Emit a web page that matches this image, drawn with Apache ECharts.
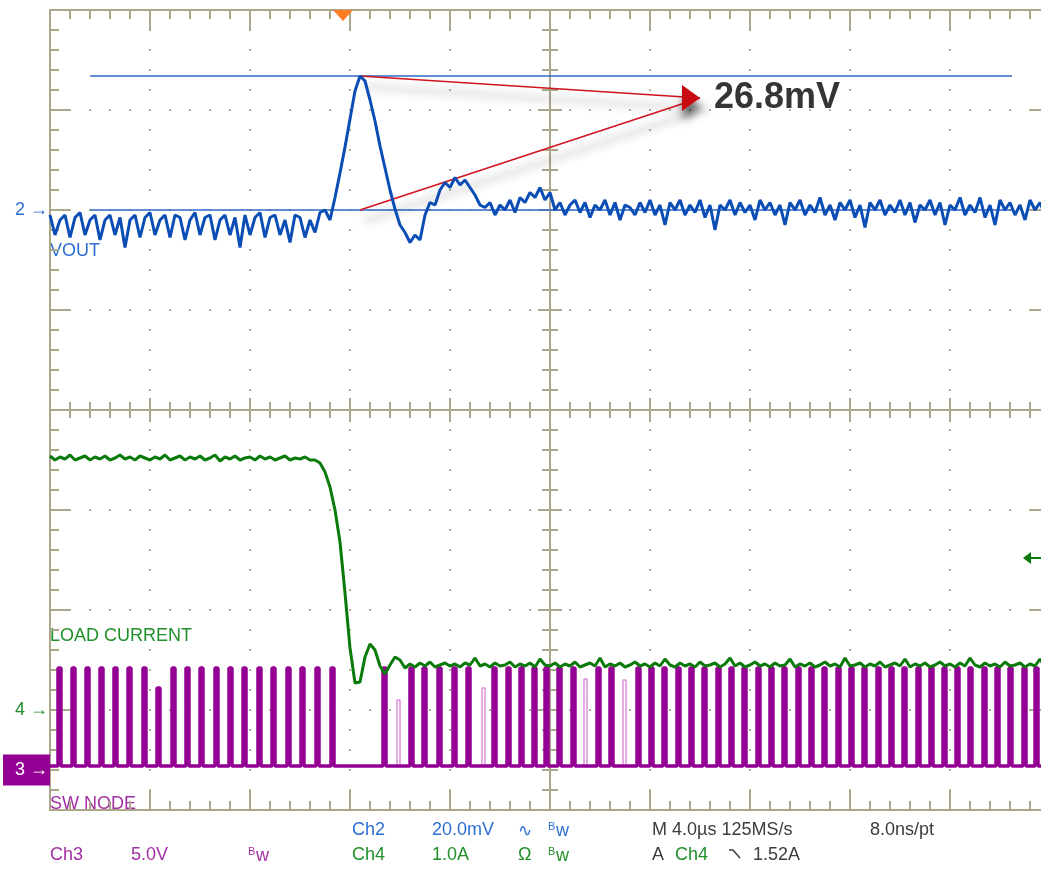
<!DOCTYPE html>
<html>
<head>
<meta charset="utf-8">
<script src="https://cdn.jsdelivr.net/npm/echarts@6/dist/echarts.min.js"></script>
<style>
  html, body { margin: 0; padding: 0; background: #ffffff; }
  #main { width: 1041px; height: 884px; }
</style>
</head>
<body>
<div id="main"></div>
<script>
// ---- acquisition settings (time 0 = screen centre) ----
const timeRange = [-20, 20];        // µs, 10 div x 4.0 µs
const timePerDiv = 4;
const sampleStart = -20;            // µs, first stored sample
const sampleStep = 0.2;             // µs between stored samples

// Ch2 VOUT, AC coupled, mV
const voutMv = [
  -1, -5, -2, -1, -5.5, -1.5, -0.5, -5, -2, -1,
  -6, -2, -1, -5, -1.5, -7.5, -2, -1, -5.5, -1.5,
  -0.5, -5, -2, -1, -5.5, -1, -1.5, -6, -2, -0.5,
  -5, -1.5, -1, -6, -2, -1, -5, -1.5, -7.5, -1,
  -5, -1.5, -0.5, -5.5, -1.5, -1, -5, -2, -6.5, -1,
  -1.5, -5.5, -2, -4.5, -0.5, 0, -2,
  2.5, 7.4, 12.6, 18.2, 23.8, 26.8, 25.8, 22, 17.8, 12.8, 8.4, 4, 0.2, -3, -4.5, -6.5,
  -5, -6, -1, 1.5, 1, 4, 5.5, 4.5, 6.5, 5,
  6, 4.5, 3, 1, 0.5, 1.5, -1, 1, 0, 2,
  -0.5, 2.5, 1.5, 3.5, 2.5, 4.5, 2, 3.5, 0, 1.5,
  -1, 1,
  2, -0.5, 1.5, -1.5, 1, 0, 2, -1, 1.5, -2,
  1, 0.5, -1, 1.5, -0.5, 2, -1, 1, -3, 1.5,
  0, 2, -1, 1, -0.5, 2, -1.5, 1, -4, 1,
  0, 2, -1, 1.5, -0.5, 1, -2, 2, 0, 1.5,
  -1, 1, -3, 1.5, 0, 2, -1, 1, -0.5, 2.5,
  -1, 1, -2, 1.5, 0, 2, -1.5, 1, -3.5, 1.5,
  0, 2, -1, 1, -0.5, 2, -1, 1.5, -2.5, 1,
  0, 2, -1, 1.5, -3, 1, 0, 2.5, -1, 1,
  -0.5, 2.5, -1.5, 1, -3, 2, 0, 1.5, -1, 1,
  -2, 2, 0, 1.5, -1, 1
];

// Ch4 load current, A
const loadCurrentA = [
  2.54, 2.5, 2.53, 2.51, 2.55, 2.5, 2.52, 2.54, 2.5, 2.53,
  2.51, 2.54, 2.5, 2.52, 2.55, 2.51, 2.53, 2.5, 2.54, 2.52,
  2.5, 2.53, 2.51, 2.55, 2.5, 2.52, 2.54, 2.5, 2.53, 2.51,
  2.54, 2.5, 2.52, 2.55, 2.49, 2.53, 2.51, 2.54, 2.5, 2.52,
  2.53, 2.5, 2.54, 2.51, 2.53, 2.5, 2.52, 2.54, 2.5, 2.52,
  2.51, 2.53, 2.5,
  2.5, 2.47, 2.38, 2.23, 2.0, 1.68, 1.17, 0.62, 0.27, 0.28,
  0.53, 0.66, 0.6, 0.44, 0.36, 0.45, 0.53, 0.5, 0.42,
  0.46, 0.43, 0.47, 0.44, 0.48, 0.43, 0.45, 0.47, 0.44, 0.46,
  0.43, 0.47, 0.45, 0.52, 0.44, 0.46, 0.43, 0.47, 0.44, 0.45,
  0.48, 0.43, 0.46, 0.44, 0.47, 0.43, 0.51, 0.45, 0.44, 0.47,
  0.43, 0.46, 0.44, 0.48, 0.43, 0.45, 0.47, 0.44, 0.52, 0.43,
  0.46, 0.44, 0.47, 0.43, 0.45, 0.48, 0.44, 0.46, 0.43, 0.47,
  0.44, 0.51, 0.45, 0.43, 0.47, 0.44, 0.46, 0.43, 0.48, 0.44,
  0.45, 0.47, 0.43, 0.46, 0.52, 0.44, 0.47, 0.43, 0.45, 0.48,
  0.44, 0.46, 0.43, 0.47, 0.44, 0.45, 0.51, 0.43, 0.46, 0.44,
  0.47, 0.43, 0.45, 0.48, 0.44, 0.46, 0.43, 0.52, 0.44, 0.45,
  0.47, 0.43, 0.46, 0.44, 0.48, 0.43, 0.45, 0.47, 0.44, 0.51,
  0.43, 0.46, 0.44, 0.47, 0.43, 0.45, 0.48, 0.44, 0.46, 0.43,
  0.47, 0.44, 0.52, 0.45, 0.43, 0.47, 0.44, 0.46, 0.43, 0.48,
  0.44, 0.45, 0.47, 0.43, 0.46, 0.44, 0.51, 0.43, 0.46
];

// Ch3 switch node: pulse rising edges [µs, top V]
const swPulses = [
  [-19.68, 5.1], [-19.12, 5.1], [-18.56, 5.1], [-18.0, 5.1], [-17.44, 5.1],
  [-16.88, 5.1], [-16.28, 5.1], [-15.72, 4.1], [-15.12, 5.1], [-14.56, 5.1],
  [-14.0, 5.1], [-13.4, 5.1], [-12.84, 5.1], [-12.28, 5.1], [-11.68, 5.1],
  [-11.12, 5.1], [-10.52, 5.1], [-9.96, 5.1], [-9.36, 5.1], [-8.76, 5.1],
  [-6.68, 5.1], [-5.6, 5.1], [-5.08, 5.1], [-4.48, 5.1], [-3.88, 5.1],
  [-3.32, 5.1], [-2.28, 5.1], [-1.72, 5.1], [-1.2, 5.1], [-0.68, 5.1],
  [-0.2, 5.1], [0.32, 5.1], [0.88, 5.1], [1.88, 5.1], [2.4, 5.1],
  [3.48, 5.1], [4.0, 5.1], [4.52, 5.1], [5.08, 5.1], [5.6, 5.1],
  [6.12, 5.1], [6.68, 5.1], [7.2, 5.1], [7.72, 5.1], [8.28, 5.1],
  [8.8, 5.1], [9.32, 5.1], [9.88, 5.1], [10.4, 5.1], [10.92, 5.1],
  [11.48, 5.1], [12.0, 5.1], [12.52, 5.1], [13.08, 5.1], [13.6, 5.1],
  [14.12, 5.1], [14.68, 5.1], [15.2, 5.1], [15.72, 5.1], [16.24, 5.1],
  [16.76, 5.1], [17.32, 5.1], [17.84, 5.1], [18.36, 5.1], [18.92, 5.1],
  [19.4, 5.1]
];
// faint (runt) pulses seen in persistence [µs, top V]
const swFaintPulses = [[-6.12, 3.5], [-2.72, 4.1], [1.36, 4.55], [2.92, 4.5]];
const swLowV = 0.2;
const swPulseWidth = 0.12;          // µs

// cursors and trigger
const cursorTopMv = 26.8;
const cursorBaseMv = 0;
const cursorSpan = [-18.4, 18.48];  // µs
const arrowTip = [6.0, 22.4];       // [µs, mV]
const triggerTime = -8.28;          // µs
const triggerLevelA = 1.52;

// vertical settings per channel
const ch2Axis = { perDiv: '20.0mV', min: -120, max: 40, interval: 20 };
const ch4Axis = { perDiv: '1.0A', min: -1, max: 7, interval: 1 };
const ch3Axis = { perDiv: '5.0V', min: -2, max: 38, interval: 2 };

// ---------------- drawing ----------------
const FONT = "'Liberation Sans', Arial, sans-serif";
const GRAT = '#aca68a';
const DOT = '#b7b29c';
const BLUE = '#0a4db5', BLUE_TXT = '#2d6fd3', CURSOR = '#2f68c8';
const GREEN = '#0a7a0a', GREEN_TXT = '#21902a';
const PURPLE = '#940094', PURPLE_FAINT = '#dd8fdd', PURPLE_TXT = '#a330a3';
const DARK = '#3c3c3c';

const timeAt = i => +(sampleStart + i * sampleStep).toFixed(3);
const voutData = voutMv.map((v, i) => [timeAt(i), v]);
const currentData = loadCurrentA.map((v, i) => [timeAt(i), v]);

const swData = [[timeRange[0], swLowV]];
swPulses.forEach(([t, top]) => {
  const tf = +(t + swPulseWidth).toFixed(3);
  swData.push([t, swLowV], [t, top], [tf, top], [tf, swLowV]);
});
swData.push([timeRange[1], swLowV]);
const swFaintData = [];
swFaintPulses.forEach(([t, top]) => {
  const tf = +(t + swPulseWidth).toFixed(3);
  swFaintData.push([t, swLowV], [t, top], [tf, top], [tf, swLowV], null);
});

let peakIdx = 0;
voutMv.forEach((v, i) => { if (v > voutMv[peakIdx]) peakIdx = i; });
const peakTime = timeAt(peakIdx);
const deltaLabel = (cursorTopMv - cursorBaseMv).toFixed(1) + 'mV';

const tickStyle = { color: GRAT, width: 2 };
const dotted = { show: true, lineStyle: { color: DOT, width: 2, type: [2, 18], dashOffset: 1 } };

function edgeAxis(extra) {
  return Object.assign({
    type: 'value', gridIndex: 0,
    axisLine: { show: true, onZero: false, lineStyle: tickStyle },
    axisTick: { show: true, inside: true, length: 20, lineStyle: tickStyle },
    minorTick: { show: true, splitNumber: 5, length: 9, lineStyle: tickStyle },
    axisLabel: { show: false },
    splitLine: { show: false },
    minorSplitLine: { show: false }
  }, extra);
}
function centreAxis(extra, inside) {
  return Object.assign({
    type: 'value', gridIndex: 0,
    axisLine: { show: true, onZero: true, onZeroAxisIndex: 0, lineStyle: tickStyle },
    axisTick: { show: true, inside: inside, length: 12, lineStyle: tickStyle },
    minorTick: { show: true, splitNumber: 5, length: 8, lineStyle: tickStyle },
    axisLabel: { show: false },
    splitLine: { show: false },
    minorSplitLine: { show: false }
  }, extra);
}
function channelAxis(cfg, labelText, labelStyle) {
  return {
    type: 'value', gridIndex: 0, position: 'left',
    min: cfg.min, max: cfg.max, interval: cfg.interval,
    axisLine: { show: false, onZero: false },
    axisTick: { show: false },
    splitLine: { show: false },
    axisLabel: Object.assign({
      show: true, margin: 2, fontSize: 18, fontFamily: FONT,
      formatter: v => Math.abs(v) < 1e-9 ? labelText : ''
    }, labelStyle)
  };
}

const xRange = { min: timeRange[0], max: timeRange[1], interval: timePerDiv };
const yRange = { min: -4, max: 4, interval: 1 };

function txt(x, y, text, fill, size, extra) {
  return Object.assign({
    type: 'text', x: x, y: y, silent: true,
    style: { text: text, fill: fill, font: (size || 18) + 'px ' + FONT, align: 'left', verticalAlign: 'middle' }
  }, extra || {});
}
function bw(x, y, fill) {
  return [
    txt(x, y - 3, 'B', fill, 11),
    txt(x + 8, y + 1, 'w', fill, 18)
  ];
}

const graphics = [
  txt(50, 251, 'VOUT', BLUE_TXT),
  txt(50, 636, 'LOAD CURRENT', GREEN_TXT),
  txt(50, 804, 'SW NODE', PURPLE_TXT),
  txt(352, 830, 'Ch2', BLUE_TXT),
  txt(432, 830, ch2Axis.perDiv, BLUE_TXT),
  txt(518, 831, '\u223F', BLUE_TXT, 17),
  ...bw(548, 830, BLUE_TXT),
  txt(652, 830, 'M 4.0\u00B5s 125MS/s', DARK),
  txt(870, 830, '8.0ns/pt', DARK),
  txt(50, 855, 'Ch3', PURPLE_TXT),
  txt(131, 855, ch3Axis.perDiv, PURPLE_TXT),
  ...bw(248, 855, PURPLE_TXT),
  txt(352, 855, 'Ch4', GREEN_TXT),
  txt(432, 855, ch4Axis.perDiv, GREEN_TXT),
  txt(518, 855, '\u03A9', GREEN_TXT),
  ...bw(548, 855, GREEN_TXT),
  txt(652, 855, 'A', DARK),
  txt(675, 855, 'Ch4', GREEN_TXT),
  { type: 'polyline', silent: true, shape: { points: [[729, 850], [733, 850], [740, 858]] },
    style: { stroke: DARK, lineWidth: 1.5, fill: null } },
  txt(753, 855, triggerLevelA.toFixed(2) + 'A', DARK)
];

const redLine = { color: '#d0141c', width: 1.6, type: 'solid',
  shadowBlur: 10, shadowColor: 'rgba(0,0,0,0.5)', shadowOffsetX: 5, shadowOffsetY: 11 };

const chart = echarts.init(document.getElementById('main'), null, { renderer: 'canvas' });
chart.setOption({
  animation: false,
  backgroundColor: '#ffffff',
  grid: { left: 50, top: 10, width: 1000, height: 800, containLabel: false, outerBoundsMode: 'none' },
  xAxis: [
    edgeAxis(Object.assign({ position: 'bottom', splitLine: dotted }, xRange)),
    edgeAxis(Object.assign({ position: 'top' }, xRange)),
    centreAxis(Object.assign({ position: 'bottom' }, xRange), true),
    centreAxis(Object.assign({ position: 'bottom' }, xRange), false)
  ],
  yAxis: [
    edgeAxis(Object.assign({ position: 'left', splitLine: dotted }, yRange)),
    edgeAxis(Object.assign({ position: 'right' }, yRange)),
    centreAxis(Object.assign({ position: 'left' }, yRange), true),
    centreAxis(Object.assign({ position: 'left' }, yRange), false),
    channelAxis(ch2Axis, '2 \u2192', { color: BLUE_TXT }),
    channelAxis(ch4Axis, '4 \u2192', { color: GREEN_TXT }),
    channelAxis(ch3Axis, '{box|3 \u2192}', {
      margin: 0,
      rich: { box: { color: '#ffffff', backgroundColor: PURPLE, fontSize: 18, fontFamily: FONT,
                     padding: [7, 2, 6, 12] } }
    })
  ],
  graphic: graphics,
  series: [
    {
      name: 'SW NODE faint', type: 'line', xAxisIndex: 0, yAxisIndex: 6,
      data: swFaintData, showSymbol: false, connectNulls: false, silent: true,
      lineStyle: { color: PURPLE_FAINT, width: 1.5 }, z: 3
    },
    {
      name: 'SW NODE', type: 'line', xAxisIndex: 0, yAxisIndex: 6,
      data: swData, showSymbol: false, silent: true,
      lineStyle: { color: PURPLE, width: 3.5 }, z: 4
    },
    {
      name: 'LOAD CURRENT', type: 'line', xAxisIndex: 0, yAxisIndex: 5,
      data: currentData, showSymbol: false, silent: true,
      lineStyle: { color: GREEN, width: 3 }, z: 5,
      markPoint: {
        silent: true,
        data: [{
          coord: [timeRange[1], triggerLevelA],
          symbol: 'path://M0,6 L8,0 L8,5 L24,5 L24,7 L8,7 L8,12 Z',
          symbolSize: [24, 12], symbolOffset: [-15, 0], symbolKeepAspect: false,
          itemStyle: { color: GREEN }, label: { show: false }
        }]
      }
    },
    {
      name: 'VOUT', type: 'line', xAxisIndex: 0, yAxisIndex: 4,
      data: voutData, showSymbol: false, silent: true,
      lineStyle: { color: BLUE, width: 3 }, z: 6,
      markLine: {
        silent: true, symbol: ['none', 'none'], label: { show: false },
        emphasis: { disabled: true },
        data: [
          [{ coord: [cursorSpan[0], cursorTopMv], lineStyle: { color: CURSOR, width: 1.5, type: 'solid' } },
           { coord: [cursorSpan[1], cursorTopMv] }],
          [{ coord: [cursorSpan[0], cursorBaseMv], lineStyle: { color: CURSOR, width: 1.5, type: 'solid' } },
           { coord: [cursorSpan[1], cursorBaseMv] }],
          [{ coord: [peakTime, cursorTopMv], lineStyle: redLine }, { coord: arrowTip }],
          [{ coord: [peakTime, cursorBaseMv], lineStyle: redLine }, { coord: arrowTip }]
        ]
      },
      markPoint: {
        silent: true,
        data: [
          {
            coord: [triggerTime, ch2Axis.max],
            symbol: 'path://M0,0 L20,0 L10,11 Z', symbolSize: [20, 11], symbolOffset: [0, 5.5],
            symbolKeepAspect: false, itemStyle: { color: '#ff7b22' }, label: { show: false }
          },
          {
            coord: arrowTip,
            symbol: 'path://M0,0 L18,13 L0,26 Z', symbolSize: [18, 26], symbolOffset: [-9, 0],
            symbolKeepAspect: false,
            itemStyle: { color: '#c80a12', shadowBlur: 8, shadowColor: 'rgba(0,0,0,0.6)', shadowOffsetX: 1, shadowOffsetY: 9 },
            label: {
              show: true, position: 'right', distance: 14, formatter: deltaLabel,
              color: '#353535', fontSize: 36, fontWeight: 'bold', fontFamily: FONT
            }
          }
        ]
      }
    }
  ]
});
</script>
</body>
</html>
